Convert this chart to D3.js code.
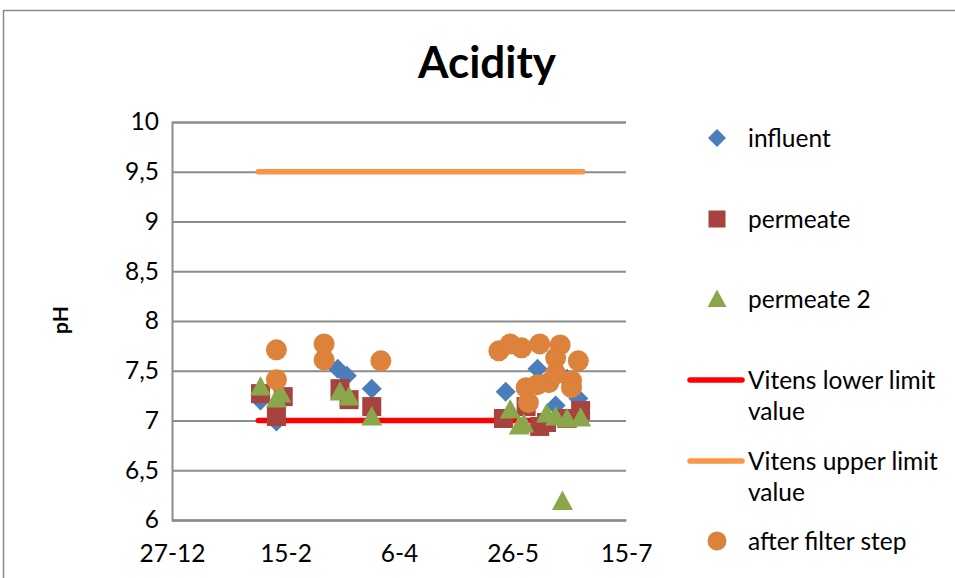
<!DOCTYPE html>
<html>
<head>
<meta charset="utf-8">
<script src="https://cdn.jsdelivr.net/npm/d3@7"></script>
<style>
  html, body { margin: 0; padding: 0; background: #fff; }
  svg { display: block; font-family: Lato, "Open Sans", sans-serif; }
</style>
</head>
<body>
<svg id="chart" width="955" height="578"></svg>
<script>
// pH measurements per sampling point: [date, pH]
const influent = [
  ["2013-02-04", 7.20], ["2013-02-11", 6.99], ["2013-03-10", 7.52], ["2013-03-14", 7.45],
  ["2013-03-25", 7.32], ["2013-05-23", 7.29], ["2013-06-06", 7.52], ["2013-06-14", 7.15],
  ["2013-06-19", 7.42], ["2013-06-24", 7.22]
];
const permeate = [
  ["2013-02-04", 7.27], ["2013-02-11", 7.04], ["2013-02-14", 7.24], ["2013-03-11", 7.32],
  ["2013-03-15", 7.21], ["2013-03-25", 7.14], ["2013-05-22", 7.02], ["2013-06-01", 7.14],
  ["2013-06-07", 6.94], ["2013-06-10", 6.98], ["2013-06-19", 7.02], ["2013-06-25", 7.10]
];
const permeate2 = [
  ["2013-02-04", 7.34], ["2013-02-11", 7.22], ["2013-02-13", 7.27], ["2013-03-11", 7.29],
  ["2013-03-15", 7.24], ["2013-03-25", 7.04], ["2013-05-25", 7.11], ["2013-05-29", 6.95],
  ["2013-05-31", 6.97], ["2013-06-10", 7.07], ["2013-06-14", 7.04], ["2013-06-17", 6.19],
  ["2013-06-19", 7.02], ["2013-06-25", 7.03]
];
const afterFilter = [
  ["2013-02-11", 7.71], ["2013-02-11", 7.41], ["2013-03-04", 7.77], ["2013-03-04", 7.61],
  ["2013-03-29", 7.60], ["2013-05-20", 7.70], ["2013-05-25", 7.77], ["2013-05-30", 7.73],
  ["2013-06-07", 7.77], ["2013-06-16", 7.76], ["2013-06-14", 7.63], ["2013-06-24", 7.60],
  ["2013-06-21", 7.40], ["2013-06-21", 7.33], ["2013-06-14", 7.47], ["2013-06-11", 7.38],
  ["2013-06-06", 7.36], ["2013-06-01", 7.33], ["2013-06-02", 7.18]
];
// Vitens limit values over the monitoring period
const lowerLimit = [["2013-02-03", 7], ["2013-02-21", 7], ["2013-03-26", 7], ["2013-06-26", 7]];
const upperLimit = [["2013-02-03", 9.5], ["2013-02-21", 9.5], ["2013-03-26", 9.5], ["2013-06-26", 9.5]];

const xTicks = ["2012-12-27", "2013-02-15", "2013-04-06", "2013-05-26", "2013-07-15"];
const yTicks = [6, 6.5, 7, 7.5, 8, 8.5, 9, 9.5, 10];

const parse = d3.utcParse("%Y-%m-%d");
const nl = d3.formatLocale({decimal: ",", thousands: ".", grouping: [3], currency: ["€", ""]});
const fmtY = nl.format(".1~f");
const fmtX = d3.utcFormat("%-d-%-m");

const svg = d3.select("#chart");
const plotLeft = 172, plotRight = 626, plotTop = 122, plotBottom = 520;

const x = d3.scaleUtc().domain([parse(xTicks[0]), parse(xTicks[xTicks.length - 1])]).range([plotLeft, plotRight]);
const y = d3.scaleLinear().domain([6, 10]).range([plotBottom, plotTop]);

const colors = {
  influent: "#4a7ebb", permeate: "#a8423f", permeate2: "#8ba74c",
  lower: "#ff0000", upper: "#f79646", after: "#dc823a"
};
const gridColor = "#8c8c8c";
const fontSize = 24.5;

// chart frame
svg.append("rect").attr("x", 3.5).attr("y", 10.5).attr("width", 1000).attr("height", 1000)
  .attr("fill", "#fff").attr("stroke", "#8a8a8a").attr("stroke-width", 1.5);

// title
svg.append("text").attr("x", 487).attr("y", 78).attr("text-anchor", "middle")
  .attr("font-size", 44).attr("font-weight", 700).attr("fill", "#000").text("Acidity");

// y axis with horizontal gridlines
const gy = svg.append("g").attr("transform", `translate(${plotLeft},0)`)
  .call(d3.axisLeft(y).tickValues(yTicks).tickFormat(fmtY).tickSize(-(plotRight - plotLeft)).tickPadding(13));
gy.select(".domain").attr("stroke", gridColor).attr("stroke-width", 2);
gy.selectAll(".tick line").attr("stroke", gridColor).attr("stroke-width", 2);
gy.selectAll(".tick text").attr("font-size", fontSize).attr("font-family", "Lato").attr("fill", "#000");

// x axis
const gx = svg.append("g").attr("transform", `translate(0,${plotBottom})`)
  .call(d3.axisBottom(x).tickValues(xTicks.map(parse)).tickFormat(fmtX).tickSize(0).tickPadding(25));
gx.select(".domain").attr("stroke", gridColor).attr("stroke-width", 2);
gx.selectAll(".tick text").attr("font-size", fontSize).attr("font-family", "Lato").attr("fill", "#000");

// y axis title
svg.append("text").attr("transform", "translate(68,320) rotate(-90)").attr("text-anchor", "middle")
  .attr("font-size", 21).attr("font-weight", 700).attr("fill", "#000").text("pH");

// limit lines
const line = d3.line().x(d => x(parse(d[0]))).y(d => y(d[1]));
[[lowerLimit, colors.lower], [upperLimit, colors.upper]].forEach(([data, c]) => {
  svg.append("path").datum(data).attr("d", line).attr("fill", "none")
    .attr("stroke", c).attr("stroke-width", 5.5).attr("stroke-linecap", "round");
});

// marker shapes (centred on the point)
const shapes = {
  diamond: r => `M0,${-r}L${r},0L0,${r}L${-r},0Z`,
  square: r => `M${-r},${-r}H${r}V${r}H${-r}Z`,
  triangle: r => `M0,${-r}L${r},${r * 0.85}L${-r},${r * 0.85}Z`,
  circle: r => `M${r},0A${r},${r} 0 1,1 ${-r},0A${r},${r} 0 1,1 ${r},0Z`
};

function drawSeries(data, shape, r, color) {
  svg.append("g").selectAll("path").data(data).join("path")
    .attr("transform", d => `translate(${x(parse(d[0]))},${y(d[1])})`)
    .attr("d", shapes[shape](r)).attr("fill", color);
}
drawSeries(influent, "diamond", 10, colors.influent);
drawSeries(permeate, "square", 9.5, colors.permeate);
drawSeries(permeate2, "triangle", 10.5, colors.permeate2);
drawSeries(afterFilter, "circle", 10.5, colors.after);

// legend
const lg = svg.append("g");
const legendItems = [
  {type: "marker", shape: "diamond", r: 9, color: colors.influent, lines: ["influent"], y: 138},
  {type: "marker", shape: "square", r: 8.5, color: colors.permeate, lines: ["permeate"], y: 219},
  {type: "marker", shape: "triangle", r: 9.5, color: colors.permeate2, lines: ["permeate 2"], y: 299},
  {type: "line", color: colors.lower, lines: ["Vitens lower limit", "value"], y: 380},
  {type: "line", color: colors.upper, lines: ["Vitens upper limit", "value"], y: 461},
  {type: "marker", shape: "circle", r: 9.5, color: colors.after, lines: ["after filter step"], y: 541}
];
legendItems.forEach(it => {
  if (it.type === "marker") {
    lg.append("path").attr("transform", `translate(717,${it.y})`).attr("d", shapes[it.shape](it.r)).attr("fill", it.color);
  } else {
    lg.append("line").attr("x1", 690).attr("x2", 742).attr("y1", it.y).attr("y2", it.y)
      .attr("stroke", it.color).attr("stroke-width", 5.5).attr("stroke-linecap", "round");
  }
  it.lines.forEach((t, i) => {
    lg.append("text").attr("x", 748).attr("y", it.y + i * 31).attr("dy", "0.35em")
      .attr("font-size", fontSize).attr("fill", "#000").text(t);
  });
});
</script>
</body>
</html>
